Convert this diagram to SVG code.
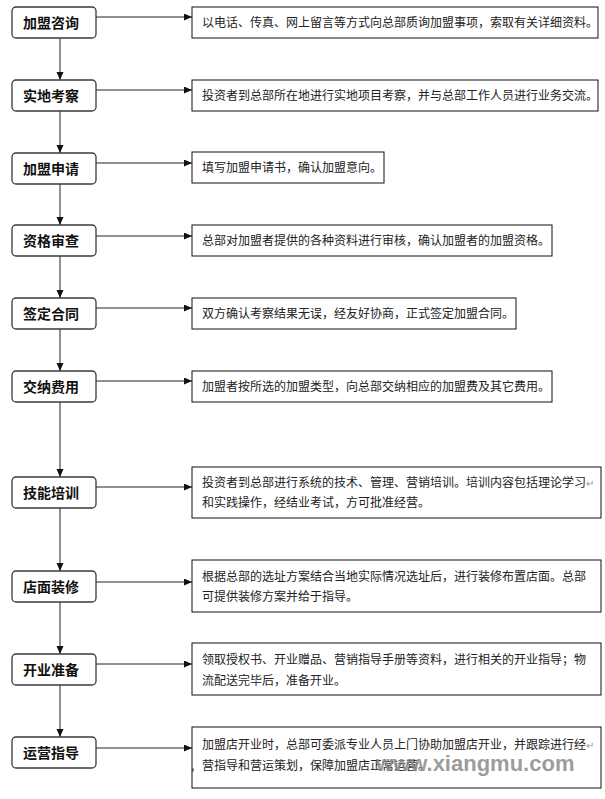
<svg xmlns="http://www.w3.org/2000/svg" width="605" height="799" viewBox="0 0 605 799">
<style>
.step rect{fill:#fff;stroke:#3a3a3a;stroke-width:1.3}
.step text{font-family:"Noto Sans CJK SC","Liberation Sans",sans-serif;font-size:14px;font-weight:bold;fill:#111;text-anchor:middle}
.desc rect{fill:#fff;stroke:#111;stroke-width:1}
.desc text{font-family:"Noto Sans CJK SC","Liberation Sans",sans-serif;font-size:12px;fill:#222}
.pm{fill:#999;font-size:10px}
.conn line{stroke:#222;stroke-width:1}
.wm{font-family:"Liberation Sans",Arial,sans-serif;font-size:22px;font-weight:bold;fill:#8a8a8a;fill-opacity:0.85}
</style>
<defs>
<marker id="ah" markerUnits="userSpaceOnUse" markerWidth="9" markerHeight="8" refX="8" refY="3.5" orient="auto">
<path d="M0,0 L8,3.5 L0,7 z" fill="#111"/>
</marker>
</defs>
<rect width="605" height="799" fill="#fff"/>
<g class="conn">
<line x1="96" y1="17" x2="192" y2="17" marker-end="url(#ah)"/>
<line x1="96" y1="90" x2="192" y2="90" marker-end="url(#ah)"/>
<line x1="96" y1="163" x2="192" y2="163" marker-end="url(#ah)"/>
<line x1="96" y1="236" x2="192" y2="236" marker-end="url(#ah)"/>
<line x1="96" y1="308" x2="192" y2="308" marker-end="url(#ah)"/>
<line x1="96" y1="381" x2="192" y2="381" marker-end="url(#ah)"/>
<line x1="96" y1="487" x2="192" y2="487" marker-end="url(#ah)"/>
<line x1="96" y1="582" x2="192" y2="582" marker-end="url(#ah)"/>
<line x1="96" y1="664" x2="192" y2="664" marker-end="url(#ah)"/>
<line x1="96" y1="748" x2="192" y2="748" marker-end="url(#ah)"/>
<line x1="60" y1="38" x2="60" y2="80" marker-end="url(#ah)"/>
<line x1="60" y1="111" x2="60" y2="153" marker-end="url(#ah)"/>
<line x1="60" y1="184" x2="60" y2="225" marker-end="url(#ah)"/>
<line x1="60" y1="256" x2="60" y2="298" marker-end="url(#ah)"/>
<line x1="60" y1="329" x2="60" y2="371" marker-end="url(#ah)"/>
<line x1="60" y1="402" x2="60" y2="477" marker-end="url(#ah)"/>
<line x1="60" y1="508" x2="60" y2="571" marker-end="url(#ah)"/>
<line x1="60" y1="602" x2="60" y2="654" marker-end="url(#ah)"/>
<line x1="60" y1="685" x2="60" y2="737" marker-end="url(#ah)"/>
</g>
<g id="s1" class="step"><rect x="12" y="7" width="84" height="31" rx="4"/><text x="51" y="28">加盟咨询</text></g>
<g id="s2" class="step"><rect x="12" y="80" width="84" height="31" rx="4"/><text x="51" y="101">实地考察</text></g>
<g id="s3" class="step"><rect x="12" y="153" width="84" height="31" rx="4"/><text x="51" y="174">加盟申请</text></g>
<g id="s4" class="step"><rect x="12" y="225" width="84" height="31" rx="4"/><text x="51" y="246">资格审查</text></g>
<g id="s5" class="step"><rect x="12" y="298" width="84" height="31" rx="4"/><text x="51" y="319">签定合同</text></g>
<g id="s6" class="step"><rect x="12" y="371" width="84" height="31" rx="4"/><text x="51" y="392">交纳费用</text></g>
<g id="s7" class="step"><rect x="12" y="477" width="84" height="31" rx="4"/><text x="51" y="498">技能培训</text></g>
<g id="s8" class="step"><rect x="12" y="571" width="84" height="31" rx="4"/><text x="51" y="592">店面装修</text></g>
<g id="s9" class="step"><rect x="12" y="654" width="84" height="31" rx="4"/><text x="51" y="675">开业准备</text></g>
<g id="s10" class="step"><rect x="12" y="737" width="84" height="31" rx="4"/><text x="51" y="758">运营指导</text></g>
<g id="d1" class="desc"><rect x="192" y="7" width="406" height="31"/><text x="202" y="27">以电话、传真、网上留言等方式向总部质询加盟事项，索取有关详细资料。</text></g>
<g id="d2" class="desc"><rect x="192" y="80" width="406" height="31"/><text x="202" y="100">投资者到总部所在地进行实地项目考察，并与总部工作人员进行业务交流。</text></g>
<g id="d3" class="desc"><rect x="192" y="152" width="192" height="31"/><text x="202" y="172">填写加盟申请书，确认加盟意向。</text></g>
<g id="d4" class="desc"><rect x="192" y="225" width="360" height="31"/><text x="202" y="245">总部对加盟者提供的各种资料进行审核，确认加盟者的加盟资格。</text></g>
<g id="d5" class="desc"><rect x="192" y="298" width="324" height="31"/><text x="202" y="318">双方确认考察结果无误，经友好协商，正式签定加盟合同。</text></g>
<g id="d6" class="desc"><rect x="192" y="371" width="360" height="31"/><text x="202" y="391">加盟者按所选的加盟类型，向总部交纳相应的加盟费及其它费用。</text></g>
<g id="d7" class="desc"><rect x="192" y="467" width="409" height="51"/><text x="202" y="487">投资者到总部进行系统的技术、管理、营销培训。培训内容包括理论学习<tspan class="pm">↵</tspan></text><text x="202" y="507">和实践操作，经结业考试，方可批准经营。</text></g>
<g id="d8" class="desc"><rect x="192" y="560" width="409" height="52"/><text x="202" y="581">根据总部的选址方案结合当地实际情况选址后，进行装修布置店面。总部</text><text x="202" y="601">可提供装修方案并给于指导。</text></g>
<g id="d9" class="desc"><rect x="192" y="643" width="409" height="52"/><text x="202" y="664">领取授权书、开业赠品、营销指导手册等资料，进行相关的开业指导；物</text><text x="202" y="685">流配送完毕后，准备开业。</text></g>
<g id="d10" class="desc"><rect x="192" y="727" width="409" height="61"/><text x="202" y="749">加盟店开业时，总部可委派专业人员上门协助加盟店开业，并跟踪进行经<tspan class="pm">↵</tspan></text><text x="191" y="770">,</text><text x="202" y="770">营指导和营运策划，保障加盟店正常运营。</text></g>
<text class="wm" x="376" y="771">www.xiangmu.com</text>
</svg>
